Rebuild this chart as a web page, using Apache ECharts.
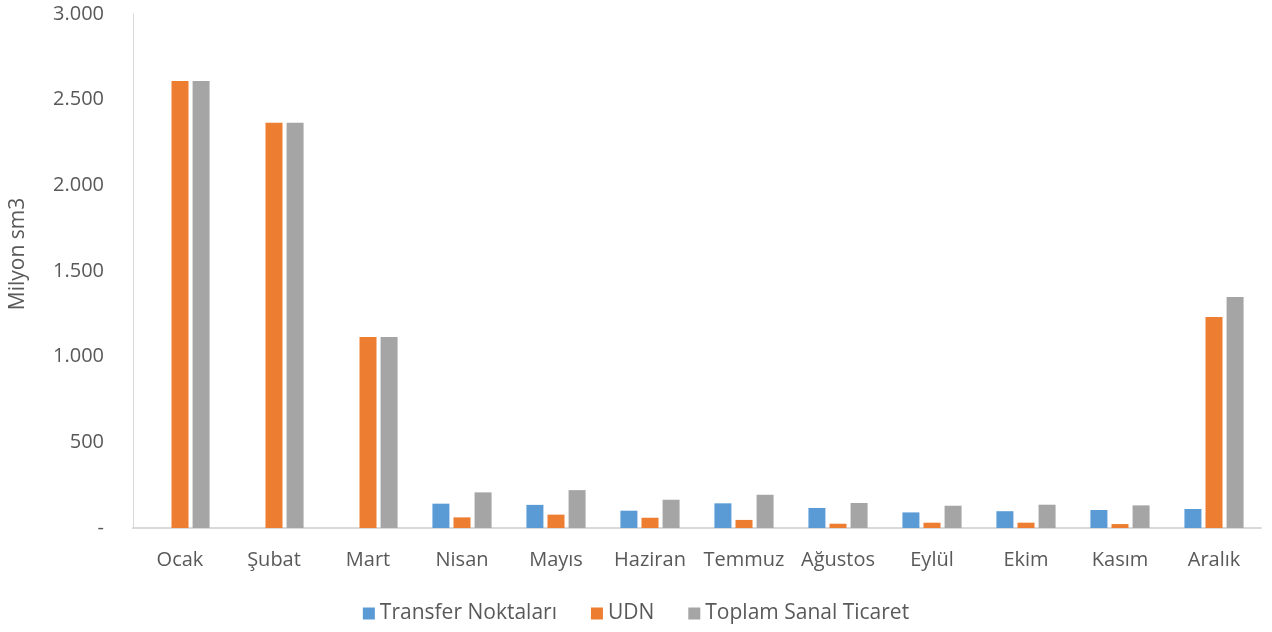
<!DOCTYPE html>
<html>
<head>
<meta charset="utf-8">
<script src="https://cdn.jsdelivr.net/npm/echarts@6/dist/echarts.min.js"></script>
<style>
  html, body { margin: 0; padding: 0; background: #fff; }
  #chart { width: 1272px; height: 632px; }
</style>
</head>
<body>
<div id="chart"></div>
<script>
var months = ['Ocak', 'Şubat', 'Mart', 'Nisan', 'Mayıs', 'Haziran', 'Temmuz', 'Ağustos', 'Eylül', 'Ekim', 'Kasım', 'Aralık'];
var transfer = [0, 0, 0, 142, 135, 101, 144, 117, 91, 98, 105, 111];
var udn = [2609, 2366, 1115, 62, 78, 60, 47, 25, 31, 31, 23, 1232];
var toplam = [2609, 2366, 1115, 208, 221, 165, 194, 146, 130, 136, 132, 1348];
var seriesNames = ['Transfer Noktaları', 'UDN', 'Toplam Sanal Ticaret'];
var colors = ['#5b9bd5', '#ed7d31', '#a5a5a5'];

var font = '"Open Sans", Lato, sans-serif';
var chart = echarts.init(document.getElementById('chart'));

function fmt(v) {
    if (v === 0) return '-';
    return String(v).replace(/\B(?=(\d{3})+(?!\d))/g, '.');
}

var series = [transfer, udn, toplam].map(function (d, i) {
    return {
        name: seriesNames[i],
        type: 'bar',
        data: d,
        barWidth: 17,
        barGap: '24%',
        itemStyle: { color: colors[i] }
    };
});

chart.setOption({
    animation: false,
    color: colors,
    grid: { left: 131, right: 11, top: 14, bottom: 104 },
    legend: {
        bottom: 3,
        left: 'center',
        itemWidth: 12,
        itemHeight: 12,
        itemGap: 34,
        icon: 'rect',
        textStyle: { color: '#595959', fontSize: 21, fontFamily: font },
        data: seriesNames
    },
    xAxis: {
        type: 'category',
        data: months,
        axisLine: { lineStyle: { color: '#d9d9d9', width: 2 } },
        axisTick: { show: false },
        axisLabel: { color: '#595959', fontSize: 20, fontFamily: font, margin: 22, interval: 0 }
    },
    yAxis: {
        type: 'value',
        min: 0,
        max: 3000,
        interval: 500,
        name: 'Milyon sm3',
        nameLocation: 'middle',
        nameGap: 104,
        nameTextStyle: { color: '#595959', fontSize: 21, fontFamily: font, padding: [0, 0, 0, 34] },
        axisLine: { show: true, lineStyle: { color: '#d9d9d9' } },
        axisTick: { show: false },
        splitLine: { show: false },
        axisLabel: { color: '#595959', fontSize: 20, fontFamily: font, margin: 29, formatter: fmt }
    },
    series: series
});
</script>
</body>
</html>
